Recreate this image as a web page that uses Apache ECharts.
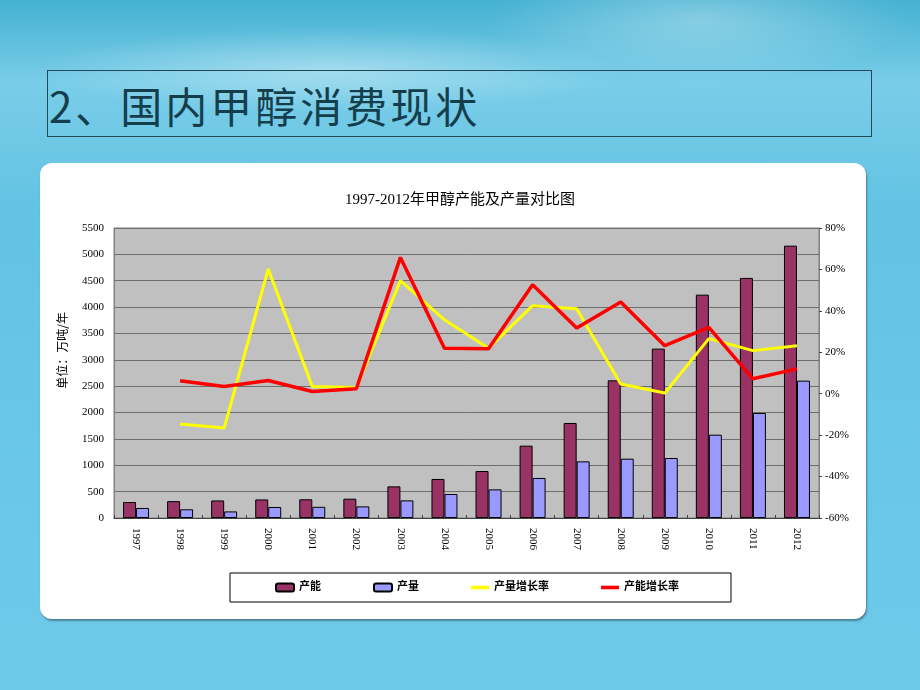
<!DOCTYPE html>
<html>
<head>
<meta charset="utf-8">
<script src="https://cdn.jsdelivr.net/npm/echarts@6/dist/echarts.min.js"></script>
<style>
  html, body { margin: 0; padding: 0; }
  body {
    width: 920px; height: 690px; position: relative; overflow: hidden;
    background:
      radial-gradient(ellipse 420px 60px at 330px 70px, rgba(255,255,255,0.35), rgba(255,255,255,0) 70%),
      radial-gradient(ellipse 300px 90px at 700px 20px, rgba(255,255,255,0.30), rgba(255,255,255,0) 70%),
      linear-gradient(180deg, #45b1d2 0%, #79cde8 12%, #63c3e3 30%, #6fcaea 100%);
  }
  .heading {
    position: absolute; left: 47px; top: 70px; width: 825px; height: 67px;
    border: 1px solid #24495a; box-sizing: border-box;
    font-family: 'Noto Sans CJK SC', sans-serif; font-size: 42px; color: #153e4d;
    line-height: 67px; padding-left: 1px; letter-spacing: 3px;
  }
  .panel {
    position: absolute; left: 40px; top: 163px; width: 826px; height: 456px;
    background: #fff; border-radius: 12px; box-shadow: 1px 2px 2px rgba(0,0,0,0.35);
  }
  #chart { position: absolute; left: 0; top: 0; width: 920px; height: 690px; }
</style>
</head>
<body>
<div class="heading">2、国内甲醇消费现状</div>
<div class="panel"></div>
<div id="chart"></div>
<script>
// 年份
const years = ['1997', '1998', '1999', '2000', '2001', '2002', '2003', '2004',
  '2005', '2006', '2007', '2008', '2009', '2010', '2011', '2012']
// 产能、产量（万吨/年）
const capacity = [303, 320, 333, 352, 355, 366, 600, 740, 891, 1372, 1802, 2611, 3212, 4236, 4553, 5165]
const output = [190, 165, 125, 209, 212, 220, 334, 455, 543, 759, 1074, 1125, 1138, 1580, 1992, 2605]
// 增长率（%），1997 年无数据
const outputGrowth = [null, -14.6, -16.6, 60.2, 3.5, 3.0, 54.6, 35.7, 22.0, 42.5, 41.0, 4.7, 0.3, 26.6, 20.8, 23.2]
const capacityGrowth = [null, 6.3, 3.5, 6.4, 1.1, 2.4, 65.8, 22.0, 21.7, 52.6, 31.7, 44.3, 23.2, 32.0, 7.2, 12.0]

const serif = "'Liberation Serif', 'Noto Sans CJK SC', serif"
const lineIcon = 'path://M0,0h20v4h-20z'

const myChart = echarts.init(document.getElementById('chart'))

const option = {
  animation: false,
  backgroundColor: 'transparent',
  title: {
    text: '1997-2012年甲醇产能及产量对比图',
    left: 'center',
    top: 188,
    textStyle: {fontFamily: serif, fontSize: 15, fontWeight: 'normal', color: '#000'}
  },
  graphic: [
    {
      type: 'text',
      left: 56,
      top: 312,
      rotation: Math.PI / 2,
      style: {text: '单位：万吨/年', font: "12px 'Noto Sans CJK SC'", fill: '#000'}
    }
  ],
  legend: {
    left: 230,
    top: 573,
    padding: [9, 52, 9, 45],
    itemGap: 52,
    itemWidth: 18,
    itemHeight: 8,
    backgroundColor: '#fff',
    borderColor: '#000',
    borderWidth: 1,
    borderRadius: 0,
    textStyle: {fontFamily: serif, fontSize: 11, color: '#000', fontWeight: 'bold'},
    data: [
      '产能',
      '产量',
      {name: '产量增长率', icon: lineIcon},
      {name: '产能增长率', icon: lineIcon}
    ]
  },
  grid: {
    left: 114,
    right: 101,
    top: 228,
    bottom: 172,
    show: true,
    backgroundColor: '#c0c0c0',
    borderColor: '#808080',
    borderWidth: 1
  },
  xAxis: {
    type: 'category',
    data: years,
    axisLine: {lineStyle: {color: '#404040'}},
    axisTick: {show: true, inside: true, length: 3, lineStyle: {color: '#404040'}},
    axisLabel: {rotate: -90, margin: 10, fontFamily: serif, fontSize: 11, color: '#000'}
  },
  yAxis: [
    {
      type: 'value',
      min: 0,
      max: 5500,
      interval: 500,
      axisLine: {show: true, lineStyle: {color: '#808080'}},
      axisTick: {show: false},
      axisLabel: {margin: 10, formatter: (v) => String(v), fontFamily: serif, fontSize: 11, color: '#000'},
      splitLine: {lineStyle: {color: '#6e6e6e', width: 1}}
    },
    {
      type: 'value',
      min: -60,
      max: 80,
      interval: 20,
      axisLine: {show: true, lineStyle: {color: '#808080'}},
      axisTick: {show: true, length: 3, lineStyle: {color: '#404040'}},
      axisLabel: {margin: 6, formatter: '{value}%', fontFamily: serif, fontSize: 11, color: '#000'},
      splitLine: {show: false}
    }
  ],
  series: [
    {
      name: '产能',
      type: 'bar',
      data: capacity,
      barGap: '0%',
      barCategoryGap: '41%',
      itemStyle: {color: '#993366', borderColor: '#000', borderWidth: 1}
    },
    {
      name: '产量',
      type: 'bar',
      data: output,
      itemStyle: {color: '#9999ff', borderColor: '#000', borderWidth: 1}
    },
    {
      name: '产量增长率',
      type: 'line',
      yAxisIndex: 1,
      data: outputGrowth,
      symbol: 'none',
      lineStyle: {color: '#ffff00', width: 3},
      itemStyle: {color: '#ffff00'},
      z: 3
    },
    {
      name: '产能增长率',
      type: 'line',
      yAxisIndex: 1,
      data: capacityGrowth,
      symbol: 'none',
      lineStyle: {color: '#ff0000', width: 3.5},
      itemStyle: {color: '#ff0000'},
      z: 4
    }
  ]
}

myChart.setOption(option)
</script>
</body>
</html>
